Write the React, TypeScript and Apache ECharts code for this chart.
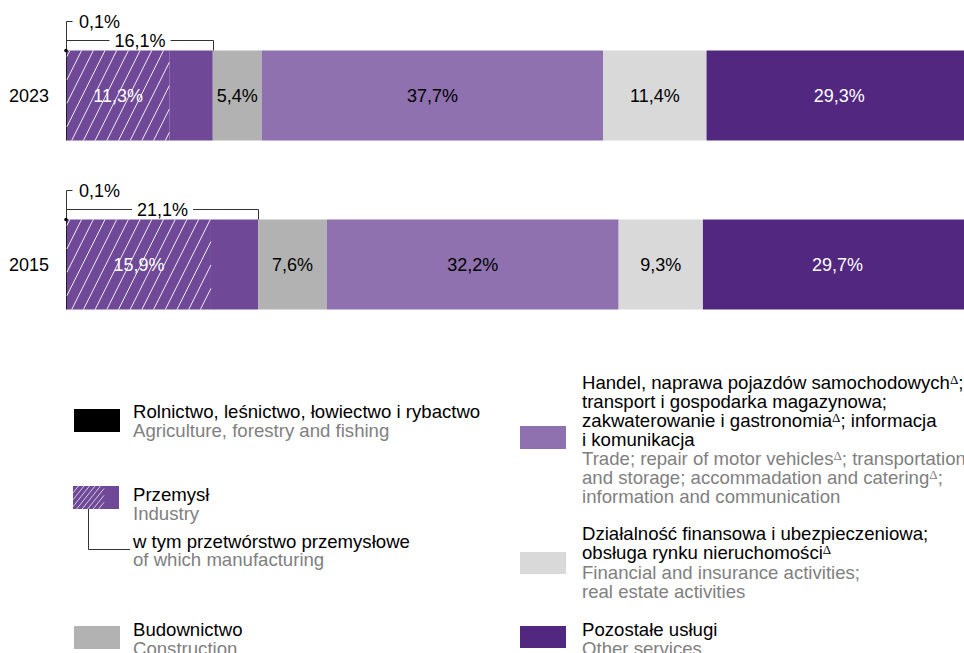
import React, { useEffect, useRef } from 'react';
import * as echarts from 'echarts';

// ---- data ----
const years = ['2015', '2023'];
const agriculture = [0.1, 0.1];
const industry = [21.1, 16.1];
const manufacturing = [15.9, 11.3];
const construction = [7.6, 5.4];
const trade = [32.2, 37.7];
const finance = [9.3, 11.4];
const otherServices = [29.7, 29.3];
const industryRest = industry.map((v, i) => +(v - manufacturing[i]).toFixed(1));

const legendAgri = { pl: ['Rolnictwo, leśnictwo, łowiectwo i rybactwo'], en: ['Agriculture, forestry and fishing'] };
const legendIndustry = { pl: ['Przemysł'], en: ['Industry'] };
const legendManuf = { pl: ['w tym przetwórstwo przemysłowe'], en: ['of which manufacturing'] };
const legendConstr = { pl: ['Budownictwo'], en: ['Construction'] };
const legendTrade = {
  pl: [
    'Handel, naprawa pojazdów samochodowych{sup|Δ};',
    'transport i gospodarka magazynowa;',
    'zakwaterowanie i gastronomia{sup|Δ}; informacja',
    'i komunikacja',
  ],
  en: [
    'Trade; repair of motor vehicles{sup|Δ}; transportation',
    'and storage; accommadation and catering{sup|Δ};',
    'information and communication',
  ],
};
const legendFinance = {
  pl: ['Działalność finansowa i ubezpieczeniowa;', 'obsługa rynku nieruchomości{sup|Δ}'],
  en: ['Financial and insurance activities;', 'real estate activities'],
};
const legendOther = { pl: ['Pozostałe usługi'], en: ['Other services'] };

// ---- styles ----
const FONT = "'Liberation Sans', Arial, sans-serif";
const FS = 18;
const FS_LEG = 18.6;
const C_AGRI = '#000000';
const C_IND = '#6f4897';
const C_CONSTR = '#b2b2b2';
const C_TRADE = '#8e71ae';
const C_FIN = '#d9d9d9';
const C_OTHER = '#52277f';
const C_GREY_TXT = '#808080';
const C_BRACKET = '#333333';
const BAR_W = 90;

const fmt = (v: number) => v.toFixed(1).replace('.', ',') + '%';

function measure(text: string) {
  const c = document.createElement('canvas');
  const ctx = c.getContext('2d');
  if (!ctx) return text.length * FS * 0.55;
  ctx.font = `${FS}px 'Liberation Sans', Arial, sans-serif`;
  return ctx.measureText(text).width;
}

function hatch(x0: number, y0: number, w: number, h: number, spacing: number, k: number, phase = 0) {
  const out: { x1: number; y1: number; x2: number; y2: number }[] = [];
  const span = k * h;
  for (let xb = x0 - span + phase; xb < x0 + w; xb += spacing) {
    const tMin = Math.max(0, (x0 - xb) / span);
    const tMax = Math.min(1, (x0 + w - xb) / span);
    if (tMin < tMax) {
      out.push({
        x1: xb + span * tMin,
        y1: y0 + h - h * tMin,
        x2: xb + span * tMax,
        y2: y0 + h - h * tMax,
      });
    }
  }
  return out;
}

function textBlock(x: number, y: number, lines: string[], fill: string, lh = 19) {
  return lines.map((t, i) => ({
    type: 'text',
    x,
    y: y + i * lh,
    silent: true,
    style: {
      text: t,
      fill,
      fontSize: FS_LEG,
      fontFamily: FONT,
      textAlign: 'left',
      textVerticalAlign: 'middle',
      rich: {
        sup: {
          fontSize: 13,
          fontFamily: "'Liberation Serif', 'Times New Roman', serif",
          fill,
          verticalAlign: 'top',
          lineHeight: 9,
        },
      },
    },
  }));
}

function rect(x: number, y: number, w: number, h: number, fill: string) {
  return { type: 'rect', silent: true, shape: { x, y, width: w, height: h }, style: { fill } };
}

function buildLegend() {
  const els: any[] = [];
  // left column
  els.push(rect(74, 409, 46, 23, C_AGRI));
  els.push(...textBlock(133, 411, legendAgri.pl, '#000'));
  els.push(...textBlock(133, 430, legendAgri.en, C_GREY_TXT));

  els.push(rect(73, 486, 46, 23, C_IND));
  hatch(73, 486, 31, 23, 5.5, 0.8).forEach((l) =>
    els.push({ type: 'line', silent: true, shape: l, style: { stroke: 'rgba(255,255,255,0.8)', lineWidth: 0.9 } })
  );
  els.push(...textBlock(133, 494, legendIndustry.pl, '#000'));
  els.push(...textBlock(133, 513, legendIndustry.en, C_GREY_TXT));
  els.push({
    type: 'polyline',
    silent: true,
    shape: { points: [[88.5, 509], [88.5, 549.5], [130, 549.5]] },
    style: { stroke: C_BRACKET, lineWidth: 1, fill: 'none' },
  });
  els.push(...textBlock(133, 541, legendManuf.pl, '#000'));
  els.push(...textBlock(133, 559, legendManuf.en, C_GREY_TXT));

  els.push(rect(74, 626, 46, 23, C_CONSTR));
  els.push(...textBlock(133, 629, legendConstr.pl, '#000'));
  els.push(...textBlock(133, 648, legendConstr.en, C_GREY_TXT));

  // right column
  els.push(rect(520, 426, 46, 23, C_TRADE));
  els.push(...textBlock(582, 382, legendTrade.pl, '#000'));
  els.push(...textBlock(582, 458, legendTrade.en, C_GREY_TXT));

  els.push(rect(520, 552, 46, 22, C_FIN));
  els.push(...textBlock(582, 533, legendFinance.pl, '#000'));
  els.push(...textBlock(582, 572, legendFinance.en, C_GREY_TXT));

  els.push(rect(520, 626, 46, 22, C_OTHER));
  els.push(...textBlock(582, 629, legendOther.pl, '#000'));
  els.push(...textBlock(582, 648, legendOther.en, C_GREY_TXT));
  return els;
}

function barSeries(name: string, data: number[], color: string, labelColor: string | null) {
  return {
    name,
    type: 'bar',
    stack: 'total',
    barWidth: BAR_W,
    data,
    itemStyle: { color },
    label: labelColor
      ? {
          show: true,
          position: 'inside',
          formatter: (p: any) => fmt(p.value),
          color: labelColor,
          fontSize: FS,
          fontFamily: FONT,
        }
      : { show: false },
    emphasis: { disabled: true },
  };
}

export default function App() {
  const ref = useRef<HTMLDivElement>(null);
  useEffect(() => {
    if (!ref.current) return;
    const chart = echarts.init(ref.current, undefined, { renderer: 'svg' });
    const option: any = {
      animation: false,
      grid: { left: 66, width: 906, top: 11, bottom: 304, outerBoundsMode: 'none', containLabel: false },
      xAxis: { type: 'value', min: 0, max: 100, show: false },
      yAxis: {
        type: 'category',
        data: years,
        axisLine: { show: false },
        axisTick: { show: false },
        axisLabel: { fontSize: FS, color: '#000', margin: 17, fontFamily: FONT },
      },
      series: [
        barSeries('Rolnictwo', agriculture, C_AGRI, null),
        barSeries('Przetwórstwo', manufacturing, C_IND, null),
        barSeries('Przemysł', industryRest, C_IND, null),
        barSeries('Budownictwo', construction, C_CONSTR, '#000'),
        barSeries('Handel', trade, C_TRADE, '#000'),
        barSeries('Finanse', finance, C_FIN, '#000'),
        barSeries('Pozostałe', otherServices, C_OTHER, '#fff'),
        {
          type: 'custom',
          z: 5,
          silent: true,
          data: years.map((_, i) => [i, agriculture[i], agriculture[i] + manufacturing[i], manufacturing[i]]),
          encode: { x: [1, 2], y: 0 },
          renderItem: (params: any, api: any) => {
            const cat = api.value(0);
            const p0 = api.coord([api.value(1), cat]);
            const p1 = api.coord([api.value(2), cat]);
            const top = p0[1] - BAR_W / 2;
            const lines = hatch(p0[0], top, p1[0] - p0[0], BAR_W, 11.7, 0.5, 3).map((l) => ({
              type: 'line',
              shape: l,
              style: { stroke: 'rgba(255,255,255,0.9)', lineWidth: 1 },
            }));
            return {
              type: 'group',
              children: [
                ...lines,
                {
                  type: 'text',
                  style: {
                    text: fmt(api.value(3)),
                    x: (p0[0] + p1[0]) / 2,
                    y: p0[1],
                    fill: '#fff',
                    fontSize: FS,
                    fontFamily: FONT,
                    textAlign: 'center',
                    textVerticalAlign: 'middle',
                  },
                },
              ],
            };
          },
        },
        {
          type: 'custom',
          z: 6,
          silent: true,
          data: years.map((_, i) => [i, agriculture[i], industry[i]]),
          encode: { x: [1, 2], y: 0 },
          renderItem: (params: any, api: any) => {
            const cat = api.value(0);
            const agri = api.value(1);
            const ind = api.value(2);
            const p0 = api.coord([0, cat]);
            const p1 = api.coord([agri + ind, cat]);
            const x0 = Math.round(p0[0]) + 0.5;
            const x1 = Math.round(p1[0]) + 0.5;
            const top = p0[1] - BAR_W / 2;
            const yT = Math.round(top - 30) + 0.5;
            const yH = Math.round(top - 11) + 0.5;
            const label = fmt(ind);
            const w = measure(label) + 10;
            const mid = (x0 + x1) / 2;
            const ls = { stroke: C_BRACKET, lineWidth: 1, fill: 'none' };
            return {
              type: 'group',
              children: [
                { type: 'polyline', shape: { points: [[x0 + 6, yT], [x0, yT], [x0, top]] }, style: ls },
                {
                  type: 'text',
                  style: {
                    text: fmt(agri),
                    x: x0 + 12.5,
                    y: yT,
                    fill: '#000',
                    fontSize: FS,
                    fontFamily: FONT,
                    textAlign: 'left',
                    textVerticalAlign: 'middle',
                  },
                },
                { type: 'polyline', shape: { points: [[x0, yH], [mid - w / 2, yH]] }, style: ls },
                { type: 'polyline', shape: { points: [[mid + w / 2, yH], [x1, yH], [x1, top]] }, style: ls },
                {
                  type: 'text',
                  style: {
                    text: label,
                    x: mid,
                    y: yH,
                    fill: '#000',
                    fontSize: FS,
                    fontFamily: FONT,
                    textAlign: 'center',
                    textVerticalAlign: 'middle',
                  },
                },
                { type: 'circle', shape: { cx: p0[0], cy: top, r: 1.8 }, style: { fill: '#000' } },
              ],
            };
          },
        },
      ],
      graphic: { elements: buildLegend() },
    };
    chart.setOption(option);
    return () => chart.dispose();
  }, []);
  return (
    <div
      ref={ref}
      style={{ position: 'absolute', left: 0, top: 0, width: 964, height: 653, background: '#fff' }}
    />
  );
}
